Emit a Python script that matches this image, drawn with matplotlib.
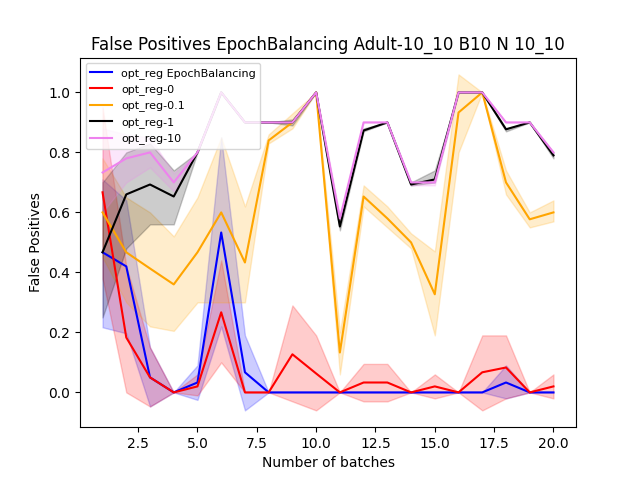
import numpy as np
import matplotlib
matplotlib.use("Agg")
import matplotlib.pyplot as plt

batches = list(range(1, 21))

eb_mean = [0.467, 0.42, 0.05, 0, 0.033, 0.533, 0.067, 0, 0, 0, 0, 0, 0, 0, 0, 0, 0, 0.033, 0, 0]
eb_low = [0.217, 0.197, -0.047, 0, -0.025, 0.22, -0.06, 0, 0, 0, 0, 0, 0, 0, 0, 0, 0, -0.02, 0, 0]
eb_high = [0.71, 0.64, 0.15, 0, 0.09, 0.85, 0.19, 0, 0, 0, 0, 0, 0, 0, 0, 0, 0, 0.09, 0, 0]

r0_mean = [0.667, 0.183, 0.05, 0, 0.02, 0.267, 0, 0, 0.127, 0.063, 0, 0.033, 0.033, 0, 0.02, 0, 0.067, 0.083, 0, 0.02]
r0_low = [0.38, 0.0, -0.047, 0, -0.01, 0.1, 0, 0, -0.03, -0.06, 0, -0.03, -0.03, 0, -0.02, 0, -0.06, -0.02, 0, -0.02]
r0_high = [0.95, 0.42, 0.15, 0, 0.06, 0.44, 0, 0, 0.29, 0.19, 0, 0.095, 0.095, 0, 0.06, 0, 0.19, 0.19, 0, 0.06]

r01_mean = [0.6, 0.467, 0.413, 0.36, 0.467, 0.6, 0.433, 0.84, 0.9, 1.0, 0.133, 0.653, 0.58, 0.5, 0.327, 0.933, 1.0, 0.7, 0.577, 0.6]
r01_low = [0.45, 0.3, 0.22, 0.205, 0.3, 0.3, 0.3, 0.83, 0.88, 1.0, 0.06, 0.62, 0.55, 0.48, 0.19, 0.8, 1.0, 0.66, 0.55, 0.57]
r01_high = [0.78, 0.65, 0.6, 0.52, 0.65, 0.85, 0.62, 0.86, 0.93, 1.0, 0.2, 0.69, 0.62, 0.53, 0.47, 1.06, 1.0, 0.74, 0.6, 0.64]

r1_mean = [0.467, 0.66, 0.693, 0.653, 0.8, 1.0, 0.9, 0.9, 0.9, 1.0, 0.553, 0.873, 0.9, 0.693, 0.71, 1.0, 1.0, 0.877, 0.9, 0.79]
r1_low = [0.25, 0.48, 0.56, 0.56, 0.8, 1.0, 0.9, 0.9, 0.89, 1.0, 0.54, 0.87, 0.9, 0.69, 0.7, 1.0, 1.0, 0.87, 0.9, 0.78]
r1_high = [0.7, 0.8, 0.83, 0.74, 0.8, 1.0, 0.9, 0.9, 0.91, 1.0, 0.57, 0.88, 0.9, 0.7, 0.74, 1.0, 1.0, 0.88, 0.9, 0.8]

r10_mean = [0.733, 0.78, 0.8, 0.7, 0.8, 1.0, 0.9, 0.9, 0.9, 1.0, 0.58, 0.9, 0.9, 0.7, 0.7, 1.0, 1.0, 0.9, 0.9, 0.8]
r10_low = [0.6, 0.7, 0.75, 0.67, 0.8, 1.0, 0.9, 0.9, 0.9, 1.0, 0.57, 0.9, 0.9, 0.69, 0.69, 1.0, 1.0, 0.9, 0.9, 0.79]
r10_high = [0.88, 0.86, 0.85, 0.73, 0.8, 1.0, 0.9, 0.9, 0.9, 1.0, 0.59, 0.9, 0.9, 0.7, 0.7, 1.0, 1.0, 0.9, 0.9, 0.8]

series = [
    ("opt_reg EpochBalancing", "blue", eb_mean, eb_low, eb_high),
    ("opt_reg-0", "red", r0_mean, r0_low, r0_high),
    ("opt_reg-0.1", "orange", r01_mean, r01_low, r01_high),
    ("opt_reg-1", "black", r1_mean, r1_low, r1_high),
    ("opt_reg-10", "violet", r10_mean, r10_low, r10_high),
]

fig, ax = plt.subplots(figsize=(6.4, 4.8))
for label, color, m, lo, hi in series:
    ax.plot(batches, m, color=color, label=label)
    ax.fill_between(batches, lo, hi, color=color, alpha=0.2)

ax.set_title("False Positives EpochBalancing Adult-10_10 B10 N 10_10")
ax.set_xlabel("Number of batches")
ax.set_ylabel("False Positives")
ax.legend(loc="upper left", fontsize=8)
plt.savefig("out.png")
